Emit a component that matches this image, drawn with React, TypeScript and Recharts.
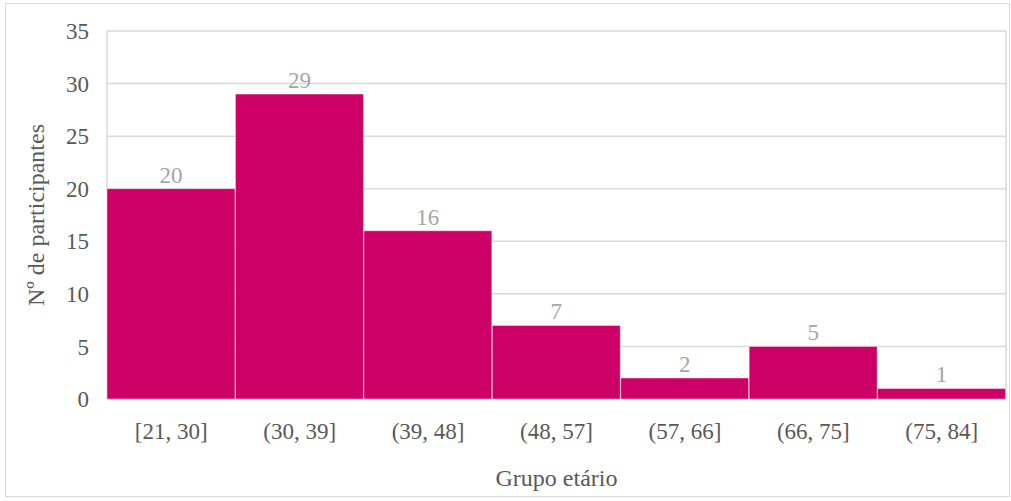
import { BarChart, Bar, XAxis, YAxis, CartesianGrid, LabelList, Label } from 'recharts';

const ageGroups = ['[21, 30]', '(30, 39]', '(39, 48]', '(48, 57]', '(57, 66]', '(66, 75]', '(75, 84]'];
const participants = [20, 29, 16, 7, 2, 5, 1];
const yTicks = [0, 5, 10, 15, 20, 25, 30, 35];

const chartData = ageGroups.map((group, i) => ({ group, count: participants[i] }));

const font = '"Liberation Serif", "Times New Roman", serif';
const tickStyle = { fontSize: 23, fill: '#595959', fontFamily: font };
const titleStyle = { fontSize: 24, fill: '#595959', fontFamily: font };

export default function App() {
  return (
    <div style={{ position: 'absolute', left: 0, top: 0, width: 1011, height: 501, background: '#fff' }}>
      <div
        style={{
          position: 'absolute',
          left: 5,
          top: 3,
          width: 1003,
          height: 492,
          border: '1px solid #d9d9d9',
        }}
      />
      <div style={{ position: 'absolute', left: 0, top: 0 }}>
        <BarChart
          width={1011}
          height={501}
          data={chartData}
          margin={{ top: 31, right: 5, left: 0, bottom: 0 }}
          barCategoryGap={0}
        >
          <CartesianGrid
            stroke="#d9d9d9"
            strokeWidth={1.5}
            verticalCoordinatesGenerator={({ offset }) => [offset.left, offset.left + offset.width]}
          />
          <XAxis
            dataKey="group"
            height={102}
            tickSize={0}
            tickMargin={24}
            axisLine={false}
            tickLine={false}
            tick={tickStyle}
            interval={0}
          >
            <Label value="Grupo etário" position="insideBottom" offset={15} style={titleStyle} />
          </XAxis>
          <YAxis
            width={107}
            domain={[0, 35]}
            ticks={yTicks}
            tickSize={0}
            tickMargin={18}
            axisLine={false}
            tickLine={false}
            tick={tickStyle}
          >
            <Label
              value="Nº de participantes"
              position="insideLeft"
              angle={-90}
              offset={35}
              style={{ ...titleStyle, textAnchor: 'middle' }}
            />
          </YAxis>
          <Bar
            dataKey="count"
            fill="#cc0066"
            stroke="#ffffff"
            strokeOpacity={0.45}
            strokeWidth={1}
            isAnimationActive={false}
          >
            <LabelList
              dataKey="count"
              position="top"
              offset={6}
              style={{ fontSize: 23, fill: '#a6a6a6', fontFamily: font }}
            />
          </Bar>
        </BarChart>
      </div>
    </div>
  );
}
